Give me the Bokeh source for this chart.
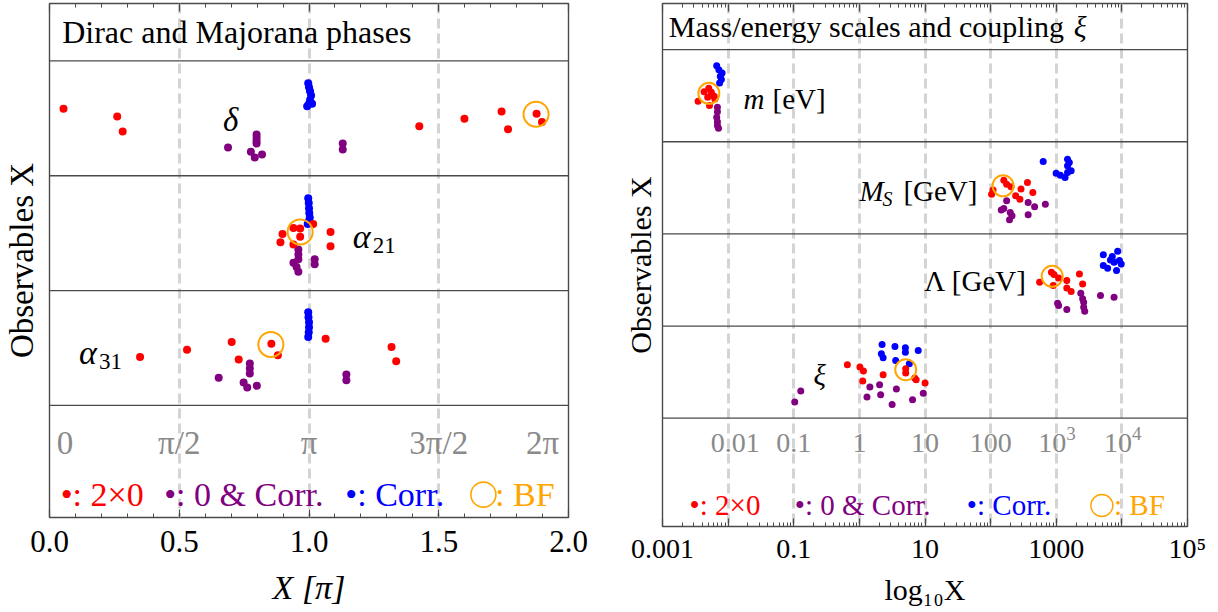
from bokeh.plotting import figure
from bokeh.models import (Range1d, FixedTicker, LinearAxis, LogAxis, Span,
                          CustomJSTickFormatter, PrintfTickFormatter)
from bokeh.layouts import row
from bokeh.core.properties import value
from bokeh.embed import file_html
from bokeh.resources import INLINE

# ---------------- data : left panel (X in units of pi, dy = offset inside row) -------------
phase_rows = ["delta", "alpha21", "alpha31"]

delta_red_x = [0.054, 0.261, 0.282, 1.425, 1.599, 1.742, 1.767, 1.877, 1.898]
delta_red_dy = [-0.083, -0.016, 0.114, 0.070, 0.004, -0.060, 0.096, -0.039, 0.033]
delta_pur_x = [0.688, 0.798, 0.798, 0.798, 0.798, 0.776, 0.791, 0.819, 1.130, 1.130]
delta_pur_dy = [0.255, 0.140, 0.168, 0.197, 0.220, 0.292, 0.341, 0.315, 0.220, 0.272]
delta_blu_x = [0.997, 1.000, 1.004, 1.008, 1.004, 1.000, 0.993, 1.012]
delta_blu_dy = [-0.305, -0.270, -0.235, -0.198, -0.160, -0.126, -0.105, -0.126]

a21_red_x = [0.898, 0.890, 0.940, 0.966, 0.966, 0.940, 1.016, 1.083, 1.083]
a21_red_dy = [0.007, 0.078, -0.045, -0.040, 0.032, 0.099, -0.080, -0.011, 0.113]
a21_pur_x = [0.959, 0.959, 0.959, 0.940, 0.952, 0.959, 1.022, 1.022]
a21_pur_dy = [0.142, 0.185, 0.228, 0.257, 0.295, 0.336, 0.228, 0.270]
a21_blu_x = [0.997, 0.999, 1.000, 1.001, 1.003, 0.999, 0.995]
a21_blu_dy = [-0.305, -0.262, -0.218, -0.175, -0.137, -0.103, -0.080]

a31_red_x = [0.349, 0.530, 0.702, 0.729, 0.855, 0.880, 1.064, 1.318, 1.336]
a31_red_dy = [0.078, 0.015, -0.052, 0.101, -0.037, 0.064, -0.080, -0.008, 0.116]
a31_pur_x = [0.652, 0.772, 0.772, 0.772, 0.748, 0.762, 0.799, 1.144, 1.144]
a31_pur_dy = [0.260, 0.136, 0.179, 0.222, 0.300, 0.343, 0.329, 0.231, 0.280]
a31_blu_x = [0.997, 0.998, 1.000, 1.000, 0.999, 0.997]
a31_blu_dy = [-0.311, -0.268, -0.225, -0.181, -0.138, -0.095]

phase_bf_x = [1.875, 0.966, 0.853]
phase_bf_dy = [-0.036, -0.011, -0.031]

phase_ticks = [0.0, 0.5, 1.0, 1.5, 2.0]
phase_grid = [0.5, 1.0, 1.5]
phase_gray_labels = ["0", "π/2", "π", "3π/2", "2π"]
phase_gray_pos = [0.06, 0.5, 1.0, 1.5, 1.9]

# ---------------- data : right panel (log10 of X, dy = offset inside row) ----------------
scale_rows = ["m", "MS", "Lambda", "xi"]

m_red_lx = [-2.458, -2.366, -2.295, -2.256, -2.311, -2.213, -2.284, -2.202]
m_red_dy = [0.061, -0.043, -0.080, -0.036, 0.018, 0.007, 0.108, 0.036]
m_pur_lx = [-2.163, -2.163, -2.174, -2.163, -2.163, -2.147]
m_pur_dy = [0.127, 0.174, 0.235, 0.282, 0.325, 0.354]
m_blu_lx = [-2.174, -2.141, -2.092, -2.119, -2.103, -2.130]
m_blu_dy = [-0.325, -0.282, -0.246, -0.210, -0.174, -0.137]

ms_red_lx = [2.015, 2.037, 2.201, 2.244, 2.310, 2.463, 2.561, 2.643, 2.381, 2.446]
ms_red_dy = [0.069, 0.025, -0.083, -0.040, -0.011, 0.014, -0.058, 0.051, 0.087, 0.123]
ms_pur_lx = [2.244, 2.162, 2.201, 2.299, 2.326, 2.288, 2.572, 2.670, 2.834, 2.572]
ms_pur_dy = [0.141, 0.242, 0.224, 0.268, 0.304, 0.347, 0.159, 0.206, 0.177, 0.293]
ms_blu_lx = [2.801, 3.172, 3.199, 3.172, 3.227, 2.998, 3.063, 3.134, 3.172]
ms_blu_dy = [-0.286, -0.311, -0.275, -0.239, -0.184, -0.159, -0.137, -0.112, -0.166]

lam_red_lx = [2.747, 2.927, 2.965, 3.036, 2.954, 3.161, 3.161, 3.227, 3.353, 3.402]
lam_red_dy = [0.025, -0.084, -0.059, -0.022, 0.061, 0.007, 0.086, 0.126, -0.066, 0.043]
lam_pur_lx = [3.020, 3.036, 3.161, 3.374, 3.402, 3.418, 3.418, 3.434, 3.674, 3.881]
lam_pur_dy = [0.252, 0.278, 0.321, 0.144, 0.205, 0.241, 0.296, 0.339, 0.169, 0.187]
lam_blu_lx = [3.717, 3.854, 3.936, 3.881, 3.963, 3.990, 3.717, 3.783, 3.919, 3.826]
lam_blu_dy = [-0.275, -0.254, -0.312, -0.192, -0.210, -0.174, -0.156, -0.127, -0.102, -0.218]

xi_red_lx = [-0.183, 0.008, 0.062, 0.051, 0.362, 0.706, 0.706, 0.843, 0.865, 1.001]
xi_red_dy = [-0.080, -0.055, -0.011, 0.097, 0.029, -0.037, 0.010, 0.065, 0.083, 0.119]
xi_pur_lx = [-0.985, -0.893, 0.160, 0.308, 0.116, 0.324, 0.564, 0.499, 0.810, 0.974]
xi_pur_dy = [0.325, 0.206, 0.162, 0.137, 0.271, 0.245, 0.184, 0.350, 0.300, 0.228]
xi_blu_lx = [0.346, 0.542, 0.701, 0.701, 0.897, 0.335, 0.362, 0.553, 0.761]
xi_blu_dy = [-0.300, -0.279, -0.264, -0.217, -0.235, -0.199, -0.156, -0.127, -0.091]

scale_bf_lx = [-2.294, 2.190, 2.938, 0.706]
scale_bf_dy = [-0.025, -0.022, -0.040, -0.026]

scale_tick_exp = [-3, -2, -1, 0, 1, 2, 3, 4, 5]
scale_label_exp = [-3, -1, 1, 3, 5]
scale_labels = ["0.001", "0.1", "10", "1000", "10⁵"]
scale_grid_exp = [-2, -1, 0, 1, 2, 3, 4]
scale_gray_labels = ["0.01", "0.1", "1", "10", "100", "10", "10"]
scale_gray_sup = ["", "", "", "", "", "3", "4"]
scale_gray_pos = [-1.89, -1.0, 0.0, 1.0, 2.0, 2.94, 3.94]

legend_texts = ["•: 2×0", "•: 0 & Corr.", "•: Corr."]

# ---------------- style ----------------
FONT = "Liberation Serif"
VF = value(FONT)
RED, PURPLE, BLUE, ORANGE = "#ff0000", "#800080", "#0000ff", "#ffa500"
COLORS = [RED, PURPLE, BLUE]
GRAY_TXT = "#8a8a8a"
GRID = "#d4d4d4"
FRAME = "#4a4a4a"


def rows_y(groups):
    xs, ys = [], []
    for r, (gx, gdy) in enumerate(groups, start=1):
        xs += gx
        ys += [r + d for d in gdy]
    return xs, ys


def style_frame(p):
    p.outline_line_color = FRAME
    p.outline_line_width = 1.4
    p.outline_line_alpha = 1.0
    p.background_fill_color = "white"
    p.border_fill_color = "white"
    p.ygrid.visible = False
    g = p.xgrid[0]
    g.grid_line_color = GRID
    g.grid_line_width = 3
    g.grid_line_dash = "10 5"


def style_tick_axis(ax):
    ax.axis_line_color = None
    ax.major_tick_in = 8
    ax.major_tick_out = 0
    ax.minor_tick_in = 4
    ax.minor_tick_out = 0
    ax.major_tick_line_color = FRAME
    ax.minor_tick_line_color = FRAME
    ax.major_tick_line_width = 1.2
    ax.minor_tick_line_width = 1.0


# ======================= LEFT PANEL =======================
pL = figure(output_backend="svg", toolbar_location=None,
            frame_width=519, frame_height=514,
            x_range=Range1d(0, 2), y_range=Range1d(4.476, 0),
            min_border_left=49, min_border_right=24, min_border_top=2, min_border_bottom=0)
style_frame(pL)
pL.xgrid[0].ticker = FixedTicker(ticks=phase_grid)

axL = pL.xaxis[0]
axL.ticker = FixedTicker(ticks=phase_ticks, minor_ticks=[i / 10 for i in range(21)])
axL.formatter = PrintfTickFormatter(format="%.1f")
style_tick_axis(axL)
axL.major_label_text_font = FONT
axL.major_label_text_font_size = "31px"
axL.major_label_text_color = "black"
axL.major_label_standoff = 13
axL.axis_label = "X [π]"
axL.axis_label_text_font = FONT
axL.axis_label_text_font_size = "34px"
axL.axis_label_text_font_style = "italic"
axL.axis_label_text_color = "black"
axL.axis_label_standoff = 14

ayL = pL.yaxis[0]
ayL.ticker = FixedTicker(ticks=[])
ayL.axis_line_color = None
ayL.major_tick_out = 0
ayL.minor_tick_out = 0
ayL.axis_label = "Observables X"
ayL.axis_label_text_font = FONT
ayL.axis_label_text_font_size = "33px"
ayL.axis_label_text_font_style = "normal"
ayL.axis_label_text_color = "black"
ayL.axis_label_standoff = 10

topL = LinearAxis(ticker=FixedTicker(ticks=phase_ticks, minor_ticks=[i / 10 for i in range(21)]),
                  formatter=CustomJSTickFormatter(code="return ''"),
                  major_label_text_font_size="0px", major_label_standoff=0)
style_tick_axis(topL)
pL.add_layout(topL, "above")

for loc in [r + 0.5 for r in range(len(phase_rows) + 1)]:
    pL.add_layout(Span(location=loc, dimension="width", line_color=FRAME, line_width=1.3))

groups_L = {
    RED: [(delta_red_x, delta_red_dy), (a21_red_x, a21_red_dy), (a31_red_x, a31_red_dy)],
    PURPLE: [(delta_pur_x, delta_pur_dy), (a21_pur_x, a21_pur_dy), (a31_pur_x, a31_pur_dy)],
    BLUE: [(delta_blu_x, delta_blu_dy), (a21_blu_x, a21_blu_dy), (a31_blu_x, a31_blu_dy)],
}
for col in [PURPLE, BLUE, RED]:
    xs, ys = rows_y(groups_L[col])
    pL.scatter(xs, ys, size=8, color=col, line_color=None)
bx, by = rows_y([([x], [d]) for x, d in zip(phase_bf_x, phase_bf_dy)])
pL.scatter(bx, by, size=25, fill_color=None, line_color=ORANGE, line_width=2)

# title & labels
pL.text(x=[0.049], y=[0.25], text=["Dirac and Majorana phases"], text_font=VF,
        text_font_size="32px", text_align="left", text_baseline="middle", text_color="black")
pL.text(x=[0.698], y=[1.018], text=["δ"], text_font=VF, text_font_size="33px",
        text_font_style="italic", text_align="center", text_baseline="middle")
pL.text(x=[1.169, 0.114], y=[2.027, 3.035], text=["α", "α"], text_font=VF, text_font_size="34px",
        text_font_style="italic", text_align="left", text_baseline="middle")
pL.text(x=[1.169, 0.114], y=[2.027, 3.035], text=["21", "31"], text_font=VF, text_font_size="23px",
        text_align="left", text_baseline="middle", x_offset=20, y_offset=9)

y_grayL = len(phase_rows) + 0.828
pL.text(x=phase_gray_pos, y=[y_grayL] * len(phase_gray_pos), text=phase_gray_labels, text_font=VF,
        text_font_size="33px", text_color=GRAY_TXT, text_align="center", text_baseline="middle")

y_legL = len(phase_rows) + 1.277
pL.text(x=[0.043, 0.442, 1.14], y=[y_legL] * 3, text=legend_texts, text_font=VF,
        text_font_size="34px", text_color=COLORS, text_align="left", text_baseline="middle")
pL.scatter([1.672], [y_legL], size=25, fill_color=None, line_color=ORANGE, line_width=1.6)
pL.text(x=[1.717], y=[y_legL], text=[": BF"], text_font=VF, text_font_size="34px",
        text_color=ORANGE, text_align="left", text_baseline="middle")

# ======================= RIGHT PANEL =======================
pR = figure(output_backend="svg", toolbar_location=None, x_axis_type="log",
            frame_width=525, frame_height=523,
            x_range=Range1d(1e-3, 1e5), y_range=Range1d(5.675, 0),
            min_border_left=70, min_border_right=22, min_border_top=3, min_border_bottom=0)
style_frame(pR)
pR.xgrid[0].ticker = FixedTicker(ticks=[10.0 ** e for e in scale_grid_exp])

minor_R = [k * 10.0 ** e for e in range(-3, 5) for k in range(2, 10)]
axR = pR.xaxis[0]
axR.ticker = FixedTicker(ticks=[10.0 ** e for e in scale_tick_exp], minor_ticks=minor_R)
axR.formatter = CustomJSTickFormatter(
    args=dict(vals=[float(e) for e in scale_label_exp], labs=scale_labels),
    code="""
const e = Math.log10(tick);
const i = vals.findIndex(v => Math.abs(v - e) < 1e-6);
return i >= 0 ? labs[i] : "";
""")
style_tick_axis(axR)
axR.major_label_text_font = FONT
axR.major_label_text_font_size = "28px"
axR.major_label_text_color = "black"
axR.major_label_standoff = 6
axR.axis_label = "log₁₀X"
axR.axis_label_text_font = FONT
axR.axis_label_text_font_size = "30px"
axR.axis_label_text_font_style = "normal"
axR.axis_label_text_color = "black"
axR.axis_label_standoff = 6

ayR = pR.yaxis[0]
ayR.ticker = FixedTicker(ticks=[])
ayR.axis_line_color = None
ayR.major_tick_out = 0
ayR.minor_tick_out = 0
ayR.axis_label = "Observables X"
ayR.axis_label_text_font = FONT
ayR.axis_label_text_font_size = "30px"
ayR.axis_label_text_font_style = "normal"
ayR.axis_label_text_color = "black"
ayR.axis_label_standoff = 6

topR = LogAxis(ticker=FixedTicker(ticks=[10.0 ** e for e in scale_tick_exp], minor_ticks=minor_R),
               formatter=CustomJSTickFormatter(code="return ''"),
               major_label_text_font_size="0px", major_label_standoff=0)
style_tick_axis(topR)
pR.add_layout(topR, "above")

for loc in [r + 0.5 for r in range(len(scale_rows) + 1)]:
    pR.add_layout(Span(location=loc, dimension="width", line_color=FRAME, line_width=1.3))

groups_R = {
    RED: [(m_red_lx, m_red_dy), (ms_red_lx, ms_red_dy), (lam_red_lx, lam_red_dy), (xi_red_lx, xi_red_dy)],
    PURPLE: [(m_pur_lx, m_pur_dy), (ms_pur_lx, ms_pur_dy), (lam_pur_lx, lam_pur_dy), (xi_pur_lx, xi_pur_dy)],
    BLUE: [(m_blu_lx, m_blu_dy), (ms_blu_lx, ms_blu_dy), (lam_blu_lx, lam_blu_dy), (xi_blu_lx, xi_blu_dy)],
}
for col in [PURPLE, BLUE, RED]:
    lxs, ys = rows_y(groups_R[col])
    pR.scatter([10.0 ** v for v in lxs], ys, size=7, color=col, line_color=None)
blx, bys = rows_y([([x], [d]) for x, d in zip(scale_bf_lx, scale_bf_dy)])
pR.scatter([10.0 ** v for v in blx], bys, size=21, fill_color=None, line_color=ORANGE, line_width=2)

pR.text(x=[10 ** -2.904], y=[0.25], text=["Mass/energy scales and coupling"], text_font=VF,
        text_font_size="30px", text_align="left", text_baseline="middle", text_color="black")
pR.text(x=[10 ** -2.904], y=[0.25], text=["ξ"], text_font=VF, text_font_style="italic",
        text_font_size="30px", text_align="left", text_baseline="middle", text_color="black",
        x_offset=405)
# row labels
pR.text(x=[10 ** -1.765], y=[1.036], text=["m"], text_font=VF, text_font_size="29px",
        text_font_style="italic", text_align="left", text_baseline="middle")
pR.text(x=[10 ** -1.765], y=[1.036], text=["[eV]"], text_font=VF, text_font_size="29px",
        text_align="left", text_baseline="middle", x_offset=29)
pR.text(x=[10 ** 0.0], y=[2.033], text=["M"], text_font=VF, text_font_size="29px",
        text_font_style="italic", text_align="left", text_baseline="middle")
pR.text(x=[10 ** 0.0], y=[2.033], text=["S"], text_font=VF, text_font_size="20px",
        text_font_style="italic", text_align="left", text_baseline="middle", x_offset=23, y_offset=8)
pR.text(x=[10 ** 0.0], y=[2.033], text=["[GeV]"], text_font=VF, text_font_size="29px",
        text_align="left", text_baseline="middle", x_offset=44)
pR.text(x=[10 ** 0.99], y=[3.007], text=["Λ [GeV]"], text_font=VF, text_font_size="29px",
        text_align="left", text_baseline="middle")
pR.text(x=[10 ** -0.603], y=[4.036], text=["ξ"], text_font=VF, text_font_size="29px",
        text_font_style="italic", text_align="center", text_baseline="middle")

y_grayR = len(scale_rows) + 0.774
pR.text(x=[10 ** v for v in scale_gray_pos], y=[y_grayR] * len(scale_gray_pos), text=scale_gray_labels,
        text_font=VF, text_font_size="28px", text_color=GRAY_TXT, text_align="center",
        text_baseline="middle")
sup_pos = [p for p, s in zip(scale_gray_pos, scale_gray_sup) if s]
sup_txt = [s for s in scale_gray_sup if s]
pR.text(x=[10 ** v for v in sup_pos], y=[y_grayR] * len(sup_pos), text=sup_txt,
        text_font=VF, text_font_size="19px", text_color=GRAY_TXT, text_align="left",
        text_baseline="middle", x_offset=14, y_offset=-10)

y_legR = len(scale_rows) + 1.447
pR.text(x=[10 ** -2.587, 10 ** -0.984, 10 ** 1.638], y=[y_legR] * 3, text=legend_texts, text_font=VF,
        text_font_size="29px", text_color=COLORS, text_align="left", text_baseline="middle")
pR.scatter([10 ** 3.695], [y_legR], size=22, fill_color=None, line_color=ORANGE, line_width=1.5)
pR.text(x=[10 ** 3.881], y=[y_legR], text=[": BF"], text_font=VF, text_font_size="29px",
        text_color=ORANGE, text_align="left", text_baseline="middle")

layout = row(pL, pR)
open("out.html", "w").write(file_html(layout, INLINE))
